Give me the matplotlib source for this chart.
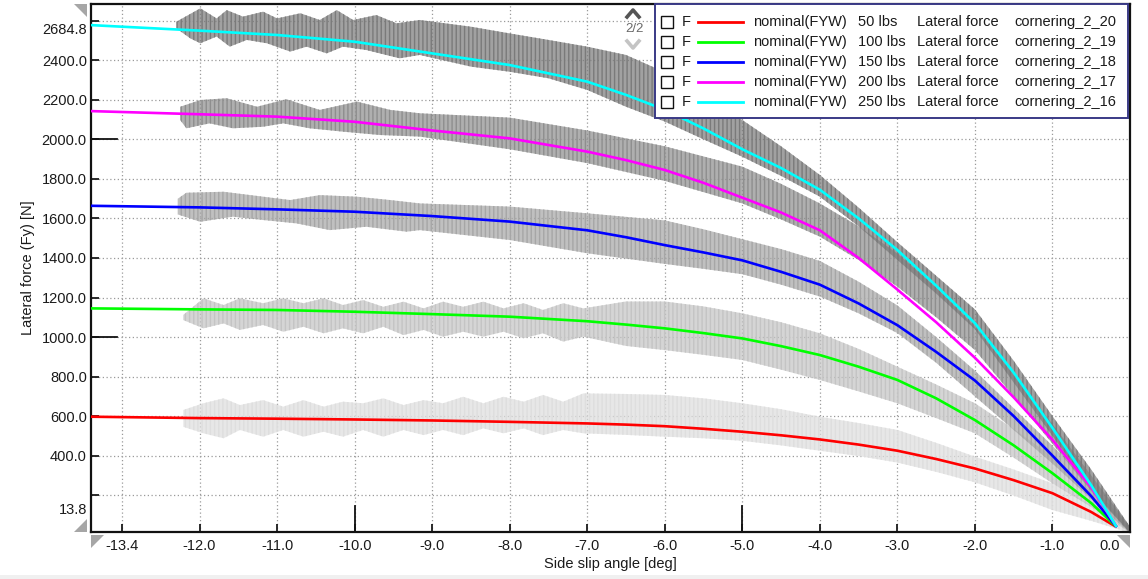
import numpy as np
import matplotlib
matplotlib.use("Agg")
import matplotlib.pyplot as plt
import matplotlib.transforms as mtransforms
from matplotlib.patches import Rectangle, Polygon
from matplotlib.lines import Line2D

plt.rcParams['font.family'] = ['Liberation Sans', 'DejaVu Sans']
plt.rcParams['hatch.linewidth'] = 1.0

# ---- model curves (nominal FYW) ----
slip_model = [-13.4, -12.0, -11.0, -10.0, -9.0, -8.0, -7.0, -6.5, -6.0, -5.5, -5.0, -4.5, -4.0,
              -3.5, -3.0, -2.5, -2.0, -1.5, -1.0, -0.5, -0.17]
fy_50 = [597, 590, 587, 583, 578, 571, 563, 557, 549, 536, 521, 503, 482,
         456, 425, 383, 335, 276, 210, 115, 38]
fy_100 = [1145, 1140, 1137, 1128, 1116, 1103, 1080, 1063, 1044, 1020, 993, 954, 909,
          850, 783, 690, 580, 452, 311, 160, 38]
fy_150 = [1664, 1656, 1646, 1634, 1612, 1584, 1540, 1505, 1465, 1428, 1388, 1330, 1265,
          1170, 1060, 925, 780, 600, 400, 195, 38]
fy_200 = [2143, 2127, 2115, 2089, 2045, 2005, 1938, 1895, 1845, 1780, 1705, 1630, 1540,
          1400, 1240, 1075, 895, 695, 480, 240, 38]
fy_250 = [2578, 2550, 2528, 2494, 2435, 2376, 2292, 2225, 2150, 2055, 1950, 1855, 1745,
          1600, 1440, 1260, 1070, 820, 540, 250, 38]

# ---- measured cornering runs: upper and lower edge of the sample cloud ----
top_x_250 = [-12.3, -11.99, -11.78, -11.65, -11.44, -11.18, -11.0, -10.7, -10.45, -10.23, -10.02,
             -9.72, -9.46, -9.16, -8.5, -8.0, -7.5, -7.0, -6.5, -6.0, -5.5, -5.0, -4.5, -4.0,
             -3.5, -3.0, -2.5, -2.0, -1.5, -1.0, -0.5, 0.0]
top_250 = [2595, 2663, 2612, 2654, 2621, 2646, 2612, 2638, 2604, 2654, 2604,
           2629, 2587, 2604, 2570, 2536, 2503, 2469, 2427, 2340, 2225, 2098, 1965, 1820,
           1655, 1480, 1310, 1140, 880, 600, 330, 40]
bot_x_250 = [-12.3, -12.12, -11.99, -11.78, -11.61, -11.39, -11.13, -10.83, -10.62, -10.36, -10.15,
             -9.85, -9.42, -9.16, -8.5, -8.0, -7.5, -7.0, -6.5, -6.0, -5.5, -5.0, -4.5, -4.0,
             -3.5, -3.0, -2.5, -2.0, -1.5, -1.0, -0.5, 0.0]
bot_250 = [2562, 2511, 2486, 2520, 2469, 2503, 2486, 2444, 2469, 2435, 2469,
           2452, 2410, 2427, 2368, 2342, 2309, 2250, 2165, 2090, 2000, 1912, 1815, 1710,
           1560, 1390, 1220, 1040, 770, 500, 230, 10]

top_x_200 = [-12.25, -11.99, -11.65, -11.26, -10.88, -10.45, -9.97, -9.54, -9.16, -8.0, -7.0, -6.0,
             -5.0, -4.5, -4.0, -3.5, -3.0, -2.5, -2.0, -1.5, -1.0, -0.5, 0.0]
top_200 = [2165, 2199, 2208, 2165, 2203, 2149, 2191, 2149, 2132, 2110, 2045, 1965,
           1862, 1775, 1676, 1560, 1423, 1250, 1052, 810, 560, 300, 40]
bot_x_200 = [-12.25, -12.17, -11.87, -11.57, -11.18, -10.92, -10.58, -10.15, -9.67, -9.16, -8.0, -7.0,
             -6.0, -5.0, -4.5, -4.0, -3.5, -3.0, -2.5, -2.0, -1.5, -1.0, -0.5, 0.0]
bot_200 = [2098, 2056, 2081, 2056, 2064, 2081, 2056, 2039, 2022, 2014, 1950, 1880,
           1790, 1676, 1595, 1508, 1390, 1255, 1100, 934, 700, 460, 220, 10]

top_x_150 = [-12.28, -12.17, -11.69, -11.18, -10.83, -10.45, -9.97, -9.54, -9.16, -8.0, -7.0, -6.0,
             -5.5, -5.0, -4.5, -4.0, -3.5, -3.0, -2.5, -2.0, -1.5, -1.0, -0.5, 0.0]
top_150 = [1700, 1730, 1735, 1710, 1693, 1718, 1710, 1693, 1676, 1660, 1626, 1590,
           1545, 1495, 1445, 1385, 1280, 1160, 1000, 830, 640, 450, 250, 40]
bot_x_150 = [-12.28, -11.99, -11.57, -11.18, -10.75, -10.32, -9.85, -9.33, -9.16, -8.0, -7.0, -6.0,
             -5.5, -5.0, -4.5, -4.0, -3.5, -3.0, -2.5, -2.0, -1.5, -1.0, -0.5, 0.0]
bot_150 = [1620, 1583, 1609, 1592, 1575, 1541, 1558, 1533, 1541, 1491, 1424, 1370,
           1345, 1318, 1265, 1205, 1120, 1020, 870, 700, 530, 360, 180, 10]

# lumpy flat part of the two light runs, then the steep part
slip_low = [-12.21, -11.95, -11.69, -11.48, -11.18, -10.92, -10.66, -10.40, -10.15, -9.89, -9.63,
            -9.37, -9.11, -8.86, -8.60, -8.34, -8.08, -7.82, -7.57, -7.31, -7.05, -6.5, -6.0,
            -5.5, -5.0, -4.5, -4.0, -3.5, -3.0, -2.5, -2.0, -1.5, -1.0, -0.5, 0.0]
top_100 = [1112, 1196, 1162, 1196, 1171, 1196, 1171, 1196, 1162, 1187, 1153,
           1179, 1145, 1179, 1153, 1179, 1145, 1171, 1137, 1171, 1145, 1180, 1180,
           1155, 1120, 1075, 1019, 940, 850, 760, 665, 535, 395, 220, 40]
bot_100 = [1086, 1044, 1069, 1036, 1061, 1027, 1052, 1019, 1044, 1019, 1052,
           1010, 1036, 1002, 1027, 1002, 1027, 994, 1019, 977, 1002, 955, 934,
           910, 884, 835, 783, 725, 665, 590, 513, 390, 260, 140, 10]
top_50 = [631, 665, 690, 656, 681, 648, 681, 648, 673, 665, 690,
          656, 681, 665, 698, 665, 698, 673, 707, 673, 715, 712, 707,
          690, 665, 635, 597, 565, 530, 465, 395, 330, 260, 150, 40]
bot_50 = [546, 513, 488, 530, 496, 530, 496, 521, 496, 530, 496,
          530, 504, 530, 504, 538, 513, 538, 504, 530, 513, 505, 496,
          488, 475, 452, 425, 398, 365, 318, 265, 198, 125, 70, 10]

loads = ["50 lbs", "100 lbs", "150 lbs", "200 lbs", "250 lbs"]
runs = ["cornering_2_20", "cornering_2_19", "cornering_2_18", "cornering_2_17", "cornering_2_16"]
line_colors = ["#ff0000", "#00ff00", "#0000ff", "#ff00ff", "#00ffff"]
band_colors = ["#dedede", "#c4c4c4", "#a6a6a6", "#8e8e8e", "#7a7a7a"]

x_ticks = [-13, -12, -11, -10, -9, -8, -7, -6, -5, -4, -3, -2, -1, 0]
x_labels = ["-13.4", "-12.0", "-11.0", "-10.0", "-9.0", "-8.0", "-7.0", "-6.0", "-5.0",
            "-4.0", "-3.0", "-2.0", "-1.0", "0.0"]
y_ticks = [200, 400, 600, 800, 1000, 1200, 1400, 1600, 1800, 2000, 2200, 2400, 2600]
y_labels = ["13.8", "400.0", "600.0", "800.0", "1000.0", "1200.0", "1400.0", "1600.0",
            "1800.0", "2000.0", "2200.0", "2400.0", "2684.8"]
long_x = [-10, -5]
long_y = [1000, 2000]

W, H = 1148, 579
FS = 10.5


def fx(px):
    return px / W


def fy(py):
    return 1 - py / H


fig = plt.figure(figsize=(W / 100, H / 100), dpi=100)
ax = fig.add_axes([fx(91), fy(532), fx(1130) - fx(91), fy(4) - fy(532)])

bands = [(slip_low, top_50, slip_low, bot_50), (slip_low, top_100, slip_low, bot_100),
         (top_x_150, top_150, bot_x_150, bot_150), (top_x_200, top_200, bot_x_200, bot_200),
         (top_x_250, top_250, bot_x_250, bot_250)]
for (tx, tv, bx, bv), c in zip(bands, band_colors):
    px = list(tx) + list(bx)[::-1]
    py = list(tv) + list(bv)[::-1]
    ax.fill(px, py, facecolor=c, alpha=0.7, lw=0, zorder=2)
    ax.fill(px, py, facecolor='none', edgecolor=c, hatch='||||', lw=0, zorder=2)

curves = [fy_50, fy_100, fy_150, fy_200, fy_250]
for fyv, c in zip(curves, line_colors):
    ax.plot(slip_model, fyv, color=c, lw=1.9, zorder=4, solid_capstyle='butt')

ax.set_xlim(-13.4, 0.0)
ax.set_ylim(13.8, 2684.8)
ax.set_xticks(x_ticks)
ax.set_xticklabels(x_labels)
ax.set_yticks(y_ticks)
ax.set_yticklabels(y_labels)
ax.tick_params(direction='in', length=6, width=1.3, labelsize=FS, colors='#1a1a1a', pad=5)
ax.tick_params(axis='y', pad=3)
ax.grid(True, color='#9a9a9a', linestyle=(0, (1, 2)), lw=0.9)
ax.set_axisbelow(True)
for sp in ax.spines.values():
    sp.set_linewidth(1.6)
    sp.set_color('#111111')
for v in long_x:
    ax.axvline(v, 0, 26 / 528, color='#111111', lw=1.3, zorder=5)
for v in long_y:
    ax.axhline(v, 0, 26 / 1039, color='#111111', lw=1.3, zorder=5)

# end labels sit inside the axis range like the original tool
xl = ax.get_xticklabels()
xl[-1].set_ha('right')
xl[-1].set_transform(xl[-1].get_transform() + mtransforms.ScaledTranslation(-10 / 100, 0, fig.dpi_scale_trans))
yl = ax.get_yticklabels()
yl[0].set_transform(yl[0].get_transform() + mtransforms.ScaledTranslation(0, -13 / 100, fig.dpi_scale_trans))
yl[-1].set_transform(yl[-1].get_transform() + mtransforms.ScaledTranslation(0, -8 / 100, fig.dpi_scale_trans))

ax.set_xlabel("Side slip angle [deg]", fontsize=FS, color='#1a1a1a', labelpad=3)
ax.set_ylabel("Lateral force (Fy) [N]", fontsize=FS, color='#1a1a1a', labelpad=5)

# ---- legend box drawn in figure pixels ----
fig.patches.append(Rectangle((fx(655), fy(118)), fx(1128) - fx(655), fy(4) - fy(118),
                             transform=fig.transFigure, facecolor='white',
                             edgecolor='#3a3a86', lw=1.4, zorder=10))
row_y = [21.7, 41.7, 61.7, 81.7, 101.7]
for i in range(5):
    yy = row_y[i]
    fig.patches.append(Rectangle((fx(661), fy(yy + 6)), fx(673) - fx(661), fy(yy - 6) - fy(yy + 6),
                                 transform=fig.transFigure, facecolor='white',
                                 edgecolor='#111111', lw=1.0, zorder=11))
    fig.text(fx(682), fy(yy), "F", fontsize=FS, va='center', ha='left', color='#1a1a1a', zorder=11)
    fig.lines.append(Line2D([fx(698), fx(743)], [fy(yy), fy(yy)], transform=fig.transFigure,
                            color=line_colors[i], lw=2.0, zorder=11))
    fig.text(fx(753), fy(yy), "nominal(FYW)", fontsize=FS, va='center', ha='left', color='#1a1a1a', zorder=11)
    fig.text(fx(858), fy(yy), loads[i], fontsize=FS, va='center', ha='left', color='#1a1a1a', zorder=11)
    fig.text(fx(917), fy(yy), "Lateral force", fontsize=FS, va='center', ha='left', color='#1a1a1a', zorder=11)
    fig.text(fx(1014), fy(yy), runs[i], fontsize=FS, va='center', ha='left', color='#1a1a1a', zorder=11)

# page indicator
fig.lines.append(Line2D([fx(627), fx(633), fx(639)], [fy(17), fy(10), fy(17)], transform=fig.transFigure,
                        color='#555555', lw=2.6, zorder=11))
fig.text(fx(634), fy(29), "2/2", fontsize=9.5, va='center', ha='center', color='#6a6a6a', zorder=11)
fig.lines.append(Line2D([fx(627), fx(633), fx(639)], [fy(41), fy(48), fy(41)], transform=fig.transFigure,
                        color='#c4c4c4', lw=2.6, zorder=11))

# scroll triangles at axis ends
tri = [[(74, 4), (87, 4), (87, 17)], [(87, 519), (87, 532), (74, 532)],
       [(91, 535), (104, 535), (91, 548)], [(1117, 535), (1130, 535), (1130, 548)]]
for t in tri:
    fig.patches.append(Polygon([(fx(a), fy(b)) for a, b in t], closed=True, transform=fig.transFigure,
                               facecolor='#a6a6a6', edgecolor='none'))

fig.patches.append(Rectangle((0, 0), 1, fy(575), transform=fig.transFigure,
                             facecolor='#f0f0f0', edgecolor='none', zorder=0))

fig.savefig("out.png", dpi=100)
